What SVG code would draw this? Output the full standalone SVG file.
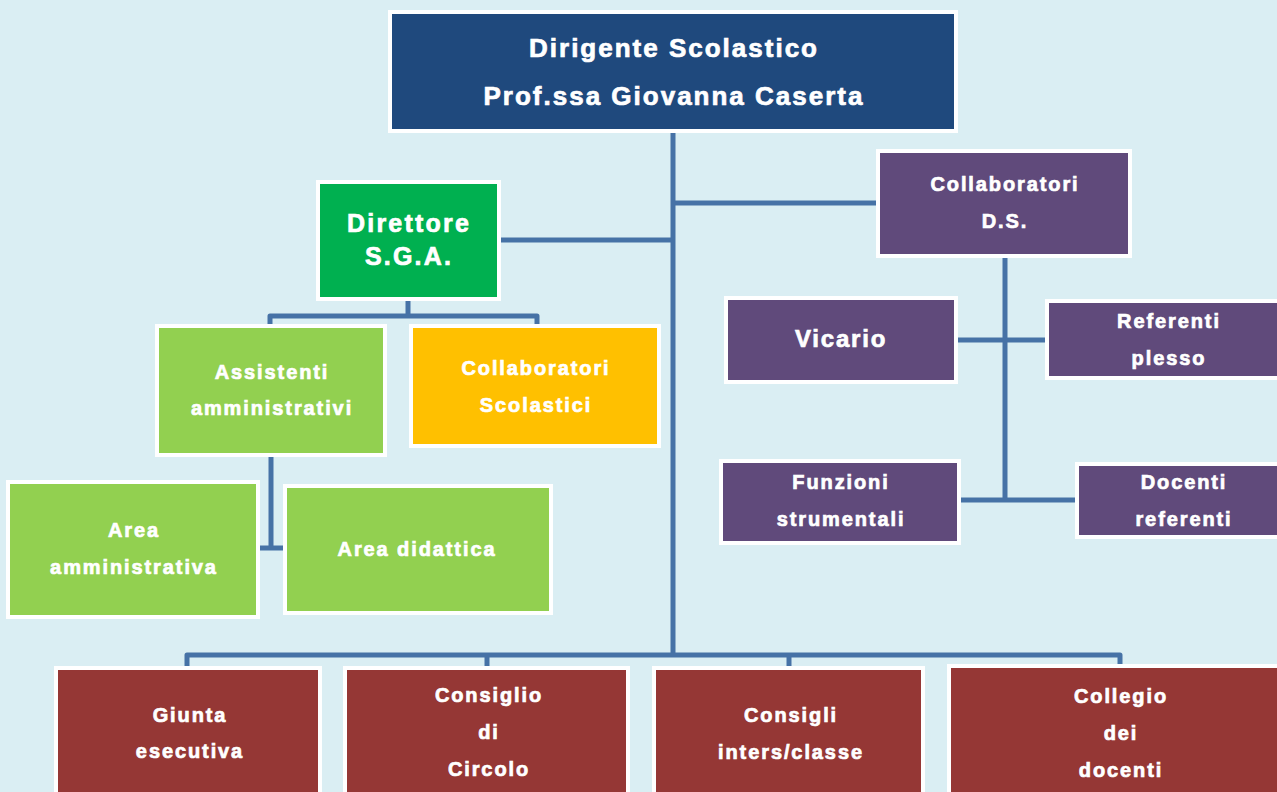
<svg xmlns="http://www.w3.org/2000/svg" width="1277" height="792" viewBox="0 0 1277 792">
<style>
.bg{fill:#DAEEF3}
.box{stroke:#FFFFFF;stroke-width:4}
.blue{fill:#1F497D}
.dgreen{fill:#00B050}
.lgreen{fill:#92D050}
.yellow{fill:#FFC000}
.purple{fill:#604A7B}
.red{fill:#953735}
text{font-family:"Liberation Sans",Arial,sans-serif;font-weight:bold;fill:#FFFFFF;stroke:#FFFFFF;stroke-width:0.7px;text-anchor:middle}
.t20{font-size:20px;letter-spacing:1.9px}
.t26{font-size:26px;letter-spacing:2px}
.t25{font-size:25px;letter-spacing:2.2px}
.t24{font-size:24px;letter-spacing:1.8px}
.conn{fill:none;stroke:#4672A6;stroke-width:5;stroke-linejoin:round}
</style>
<rect class="bg" x="0" y="0" width="1277" height="792"/>
<g id="connectors">
<path class="conn" d="M673,133 V655"/>
<path class="conn" d="M673,203 H876"/>
<path class="conn" d="M501,240 H673"/>
<path class="conn" d="M408,301 V316"/>
<path class="conn" d="M270,324 V316 H537 V324"/>
<path class="conn" d="M271,457 V548"/>
<path class="conn" d="M260,548 H283"/>
<path class="conn" d="M1005,258 V500"/>
<path class="conn" d="M958,340 H1045"/>
<path class="conn" d="M961,500 H1075"/>
<path class="conn" d="M187,666 V655 H1120 V664"/>
<path class="conn" d="M487,655 V666"/>
<path class="conn" d="M789,655 V666"/>
</g>
<g id="dirigente">
<rect class="box blue" x="390" y="12" width="566" height="119"/>
<text class="t26" x="674" y="57">Dirigente Scolastico</text>
<text class="t26" x="674" y="105">Prof.ssa Giovanna Caserta</text>
</g>
<g id="direttore">
<rect class="box dgreen" x="318" y="182" width="181" height="117"/>
<text class="t25" x="409" y="232">Direttore</text>
<text class="t25" x="409" y="265">S.G.A.</text>
</g>
<g id="assistenti">
<rect class="box lgreen" x="157" y="326" width="228" height="129"/>
<text class="t20" x="272" y="379">Assistenti</text>
<text class="t20" x="272" y="415">amministrativi</text>
</g>
<g id="collab-scol">
<rect class="box yellow" x="411" y="326" width="248" height="120"/>
<text class="t20" x="536" y="375">Collaboratori</text>
<text class="t20" x="536" y="412">Scolastici</text>
</g>
<g id="area-amm">
<rect class="box lgreen" x="8" y="482" width="250" height="135"/>
<text class="t20" x="134" y="537">Area</text>
<text class="t20" x="134" y="574">amministrativa</text>
</g>
<g id="area-did">
<rect class="box lgreen" x="285" y="486" width="266" height="127"/>
<text class="t20" x="417" y="556">Area didattica</text>
</g>
<g id="collab-ds">
<rect class="box purple" x="878" y="151" width="252" height="105"/>
<text class="t20" x="1005" y="191">Collaboratori</text>
<text class="t20" x="1005" y="228">D.S.</text>
</g>
<g id="vicario">
<rect class="box purple" x="726" y="298" width="230" height="84"/>
<text class="t24" x="841" y="347">Vicario</text>
</g>
<g id="referenti-plesso">
<rect class="box purple" x="1047" y="301" width="240" height="77"/>
<text class="t20" x="1169" y="328">Referenti</text>
<text class="t20" x="1169" y="365">plesso</text>
</g>
<g id="funzioni">
<rect class="box purple" x="721" y="461" width="238" height="82"/>
<text class="t20" x="841" y="489">Funzioni</text>
<text class="t20" x="841" y="526">strumentali</text>
</g>
<g id="docenti-ref">
<rect class="box purple" x="1077" y="464" width="210" height="73"/>
<text class="t20" x="1184" y="489">Docenti</text>
<text class="t20" x="1184" y="526">referenti</text>
</g>
<g id="giunta">
<rect class="box red" x="56" y="668" width="264" height="140"/>
<text class="t20" x="190" y="722">Giunta</text>
<text class="t20" x="190" y="758">esecutiva</text>
</g>
<g id="consiglio-circolo">
<rect class="box red" x="345" y="668" width="283" height="140"/>
<text class="t20" x="489" y="702">Consiglio</text>
<text class="t20" x="489" y="739">di</text>
<text class="t20" x="489" y="776">Circolo</text>
</g>
<g id="consigli-classe">
<rect class="box red" x="654" y="668" width="269" height="140"/>
<text class="t20" x="791" y="722">Consigli</text>
<text class="t20" x="791" y="759">inters/classe</text>
</g>
<g id="collegio">
<rect class="box red" x="949" y="666" width="340" height="140"/>
<text class="t20" x="1121" y="703">Collegio</text>
<text class="t20" x="1121" y="740">dei</text>
<text class="t20" x="1121" y="777">docenti</text>
</g>
</svg>
